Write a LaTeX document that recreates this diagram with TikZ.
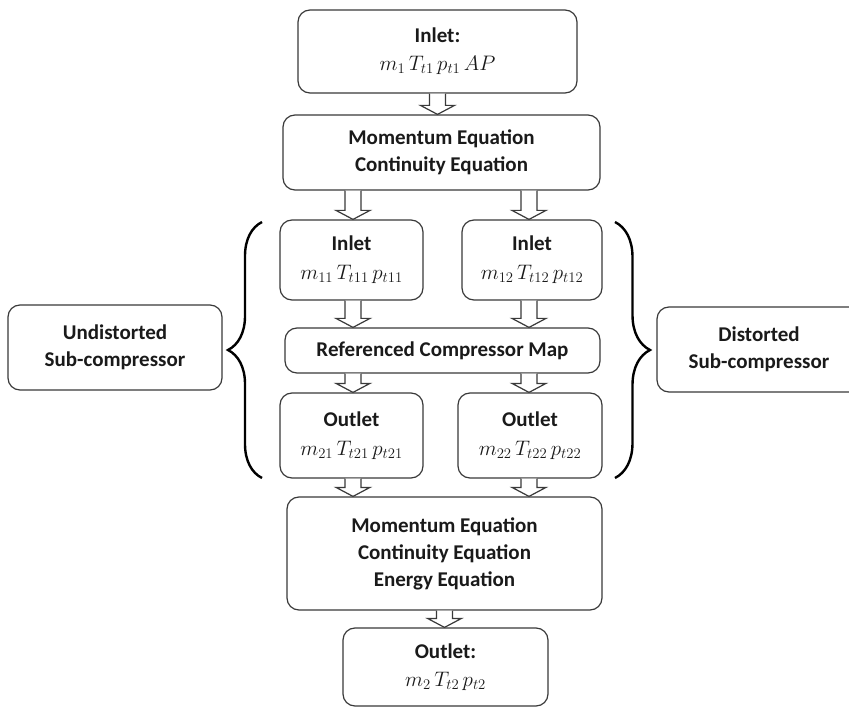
\documentclass[tikz,border=0pt]{standalone}
\usepackage{fix-cm}
\usepackage{fontspec}
\setmainfont{Carlito}
\usetikzlibrary{calc,decorations.pathreplacing}
\definecolor{linec}{HTML}{3A3A3A}
\definecolor{textc}{HTML}{1A1A1A}
\tikzset{
  box/.style={draw=linec, line width=1.2pt, rounded corners=12pt, fill=white,
    align=center, inner sep=0pt, text=textc,
    font=\fontsize{21}{27}\selectfont\bfseries},
  flowarr/.style={draw=linec, line width=1.2pt, fill=white, line join=miter},
  bracestyle/.style={draw=black, line width=2.4pt, decorate}
}
\newcommand\flowarrow[2]{%
  \draw[flowarr] let \p1=(#1), \p2=(#2) in
    (\x1-8pt,\y1) -- (\x1-8pt,\y2+9pt) -- (\x1-17pt,\y2+9pt) -- (\x1,\y2)
    -- (\x1+17pt,\y2+9pt) -- (\x1+8pt,\y2+9pt) -- (\x1+8pt,\y1);}
\begin{document}
\begin{tikzpicture}[x=1pt,y=-1pt]
\useasboundingbox (0,0) rectangle (849,711);
\clip (0,0) rectangle (849,711);
\fill[white] (0,0) rectangle (849,711);
% columns for the split arrows
\coordinate (colL) at (353,0);
\coordinate (colR) at (529,0);
% boxes
\node[box, minimum width=279pt, minimum height=83pt] (in1) at (437.5,51.5)
  {Inlet:\\[1pt] $m_1\,T_{t1}\,p_{t1}\,AP$};
\node[box, minimum width=317pt, minimum height=75pt] (mom1) at (441.5,152.5)
  {Momentum Equation\\Continuity Equation};
\node[box, minimum width=143pt, minimum height=80pt] (in11) at (351.5,260)
  {Inlet\\[2pt] $m_{11}\,T_{t11}\,p_{t11}$};
\node[box, minimum width=140pt, minimum height=80pt] (in12) at (532,260)
  {Inlet\\[2pt] $m_{12}\,T_{t12}\,p_{t12}$};
\node[box, minimum width=315pt, minimum height=45pt] (ref) at (442.5,350.5)
  {Referenced Compressor Map};
\node[box, minimum width=143pt, minimum height=85pt] (out21) at (351.5,435.5)
  {Outlet\\[2pt] $m_{21}\,T_{t21}\,p_{t21}$};
\node[box, minimum width=144pt, minimum height=85pt] (out22) at (530,435.5)
  {Outlet\\[2pt] $m_{22}\,T_{t22}\,p_{t22}$};
\node[box, minimum width=315pt, minimum height=113pt] (mom2) at (444.5,553.5)
  {Momentum Equation\\Continuity Equation\\Energy Equation};
\node[box, minimum width=205pt, minimum height=78pt] (out2) at (445.5,667)
  {Outlet:\\[1pt] $m_2\,T_{t2}\,p_{t2}$};
\node[box, minimum width=214pt, minimum height=85pt] (und) at (115,347.5)
  {Undistorted\\Sub-compressor};
\node[box, minimum width=204pt, minimum height=85pt] (dist) at (759,349.5)
  {Distorted\\Sub-compressor};
% braces
\coordinate (lbT) at (262,222);
\coordinate (lbB) at (262,478);
\coordinate (rbT) at (615,222);
\coordinate (rbB) at (615,478);
\draw[bracestyle, decoration={brace, amplitude=34pt}] (lbB) -- (lbT);
\draw[bracestyle, decoration={brace, amplitude=35pt}] (rbT) -- (rbB);
% arrows
\flowarrow{in1.south}{in1.south |- mom1.north}
\flowarrow{mom1.south -| colL}{in11.north -| colL}
\flowarrow{mom1.south -| colR}{in12.north -| colR}
\flowarrow{in11.south -| colL}{ref.north -| colL}
\flowarrow{in12.south -| colR}{ref.north -| colR}
\flowarrow{ref.south -| colL}{out21.north -| colL}
\flowarrow{ref.south -| colR}{out22.north -| colR}
\flowarrow{out21.south -| colL}{mom2.north -| colL}
\flowarrow{out22.south -| colR}{mom2.north -| colR}
\flowarrow{mom2.south}{mom2.south |- out2.north}
\end{tikzpicture}
\end{document}
